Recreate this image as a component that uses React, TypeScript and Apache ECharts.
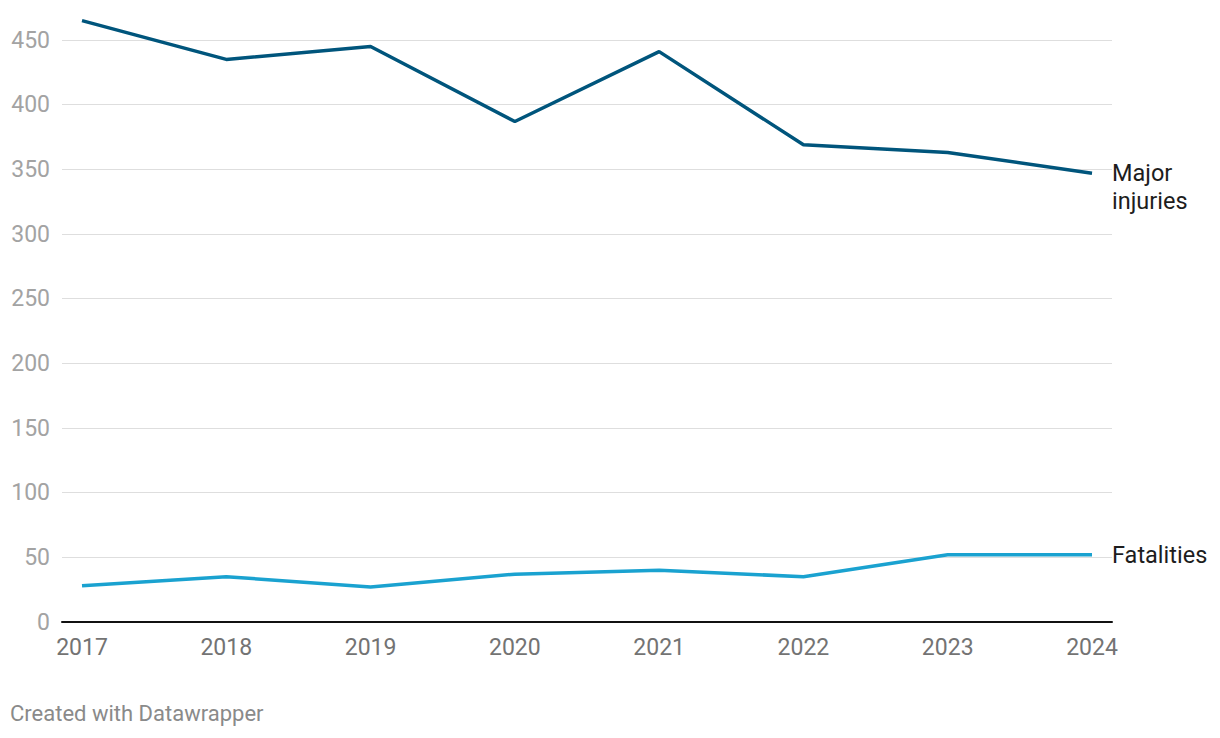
import React, { useEffect, useRef } from "react";
import * as echarts from "echarts";

const years = [2017, 2018, 2019, 2020, 2021, 2022, 2023, 2024];
const majorInjuries = [465, 435, 445, 387, 441, 369, 363, 347];
const fatalities = [28, 35, 27, 37, 40, 35, 52, 52];
const yTicks = [0, 50, 100, 150, 200, 250, 300, 350, 400, 450];

export default function App() {
  const ref = useRef<HTMLDivElement>(null);
  useEffect(() => {
    const chart = echarts.init(ref.current!, null, { renderer: "svg" });
    const font = "Roboto";
    chart.setOption({
      animation: false,
      textStyle: { fontFamily: font },
      grid: { left: 62, right: 108, top: 40, bottom: 116, containLabel: false },
      xAxis: {
        type: "value",
        min: 2016.8614,
        max: 2024.1386,
        axisLine: { show: true, onZero: false, lineStyle: { color: "#111", width: 2 } },
        axisTick: { show: false },
        splitLine: { show: false },
        axisLabel: {
          customValues: years,
          formatter: (v: number) => String(v),
          color: "#737373",
          fontSize: 23,
          fontFamily: font,
          margin: 14,
        },
      },
      yAxis: {
        type: "value",
        min: 0,
        max: 450,
        interval: 50,
        axisLine: { show: false },
        axisTick: { show: false },
        splitLine: { show: true, lineStyle: { color: "#dedede", width: 1.2 } },
        axisLabel: {
          customValues: yTicks,
          color: "#a3a3a3",
          fontSize: 23,
          fontFamily: font,
          margin: 12,
        },
      },
      series: [
        {
          type: "line",
          name: "Major injuries",
          data: years.map((y, i) => [y, majorInjuries[i]]),
          showSymbol: false,
          clip: false,
          lineStyle: { color: "#00557c", width: 3.5 },
          itemStyle: { color: "#00557c" },
          endLabel: {
            show: true,
            formatter: "Major\ninjuries",
            color: "#1d1d1d",
            fontSize: 23.5,
            fontFamily: font,
            lineHeight: 28,
            distance: 20,
            offset: [0, 14],
          },
          z: 3,
        },
        {
          type: "line",
          name: "Fatalities",
          data: years.map((y, i) => [y, fatalities[i]]),
          showSymbol: false,
          clip: false,
          lineStyle: { color: "#1aa2d0", width: 3.5 },
          itemStyle: { color: "#1aa2d0" },
          endLabel: {
            show: true,
            formatter: "Fatalities",
            color: "#1d1d1d",
            fontSize: 23.5,
            fontFamily: font,
            distance: 20,
          },
          z: 3,
        },
      ],
      graphic: [
        {
          type: "text",
          left: 10,
          top: 702,
          style: {
            text: "Created with Datawrapper",
            fill: "#8a8a8a",
            fontSize: 22,
            fontFamily: font,
          },
        },
      ],
    });
    return () => chart.dispose();
  }, []);
  return <div ref={ref} style={{ width: 1220, height: 738, margin: -8 }} />;
}
